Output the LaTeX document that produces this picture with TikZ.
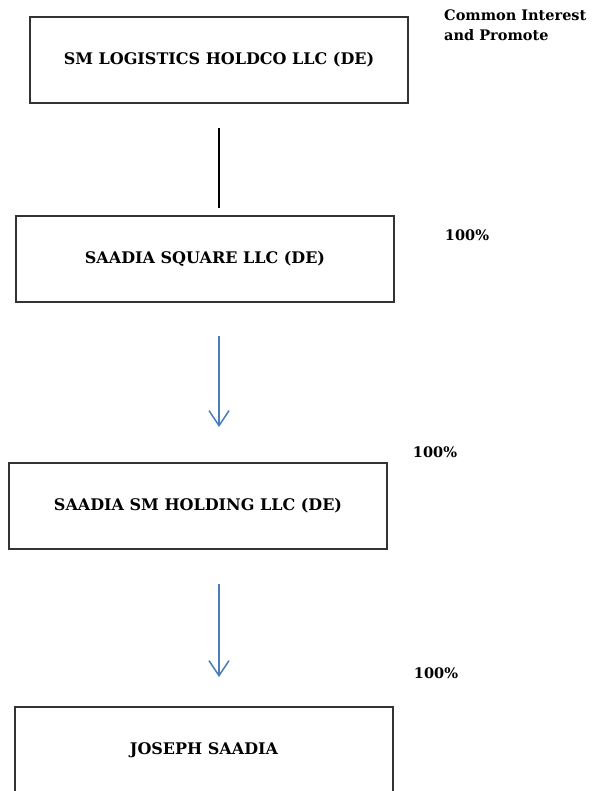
\documentclass[tikz,border=0pt]{standalone}
\usepackage{fontspec}
\setmainfont{DejaVu Serif}
\usetikzlibrary{arrows.meta}
\definecolor{arrowblue}{HTML}{4A7EBB}
\begin{document}
\begin{tikzpicture}[x=1pt,y=-1pt,
	entity/.style={draw=black!80,line width=2pt,minimum width=378pt,minimum height=86pt,inner sep=0pt,font=\bfseries\fontsize{16}{20}\selectfont},
	share/.style={font=\bfseries\fontsize{14.5}{20}\selectfont,inner sep=0pt},
	own/.style={draw=arrowblue,line width=1.5pt,-{Straight Barb[length=15pt,width=20pt,line width=1.5pt]}}]
	\useasboundingbox (0,0) rectangle (594,791);
	
	\node[entity] (holdco) at (219,60) {SM LOGISTICS HOLDCO LLC (DE)};
	\node[entity] (square) at (205,259) {SAADIA SQUARE LLC (DE)};
	\node[entity] (holding) at (198,506) {SAADIA SM HOLDING LLC (DE)};
	\node[entity] (joseph) at (204,750) {JOSEPH SAADIA};
	
	\node[share,align=left,anchor=north west] (promote) at (444,10) {Common Interest\\and Promote};
	\node[share] (pctsquare) at (467,235) {100\%};
	\node[share] (pctholding) at (435,452) {100\%};
	\node[share] (pctjoseph) at (436,673) {100\%};
	
	%connectors
	\draw[line width=1.8pt,shorten <=24pt,shorten >=7pt] (holdco.south -| holdco.center) -- (square.north -| holdco.center);
	\draw[own,shorten <=33pt,shorten >=35pt] (square.south -| holdco.center) -- (holding.north -| holdco.center);
	\draw[own,shorten <=34pt,shorten >=29pt] (holding.south -| holdco.center) -- (joseph.north -| holdco.center);
\end{tikzpicture}
\end{document}
